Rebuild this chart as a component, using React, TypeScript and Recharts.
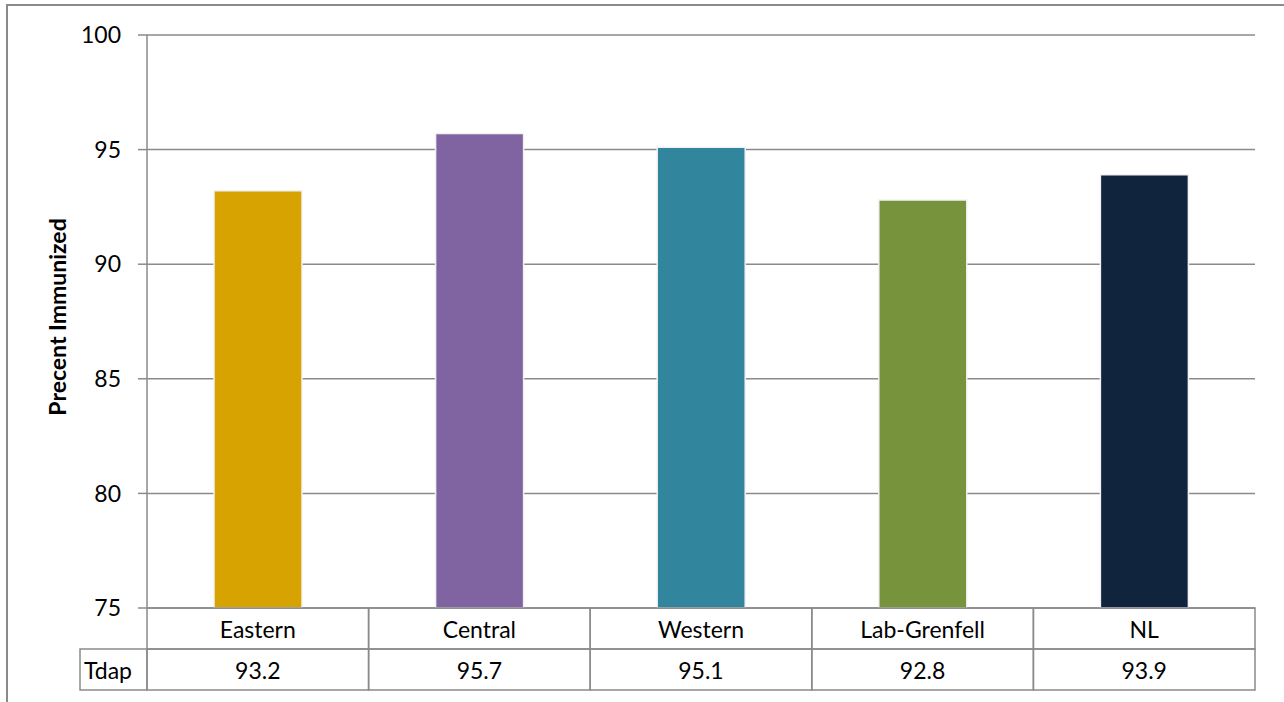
import React from "react";
import { BarChart, Bar, XAxis, YAxis, CartesianGrid, Cell } from "recharts";

const categories = ["Eastern", "Central", "Western", "Lab-Grenfell", "NL"];
const tdapValues = [93.2, 95.7, 95.1, 92.8, 93.9];
const barColors = ["#D6A300", "#8064A2", "#31859C", "#77933C", "#10243E"];
const yTicks = [75, 80, 85, 90, 95, 100];
const seriesName = "Tdap";
const yAxisTitle = "Precent Immunized";

const data = categories.map((c, i) => ({ name: c, value: tdapValues[i] }));

const W = 1284;
const H = 702;
const M_TOP = 35;
const M_RIGHT = 29;
const Y_W = 147;
const X_H = 94;
const PLOT_W = W - Y_W - M_RIGHT;
const BAND = PLOT_W / categories.length;
const PLOT_BOTTOM = H - X_H;
const ROW_H = 41;
const GRAY = "#8A8A8A";
const FONT = "Lato, 'Open Sans', sans-serif";

const TableTick = (props: any) => {
  const { x, index, payload } = props;
  const left = x - BAND / 2;
  const y0 = PLOT_BOTTOM;
  const y1 = y0 + ROW_H;
  return (
    <g>
      <rect x={left} y={y0} width={BAND} height={ROW_H} fill="none" stroke={GRAY} strokeWidth={1.5} />
      <rect x={left} y={y1} width={BAND} height={ROW_H} fill="none" stroke={GRAY} strokeWidth={1.5} />
      <text x={x} y={y0 + ROW_H / 2} textAnchor="middle" dominantBaseline="central" fontSize={23} fill="#000" fontFamily={FONT}>
        {payload.value}
      </text>
      <text x={x} y={y1 + ROW_H / 2} textAnchor="middle" dominantBaseline="central" fontSize={23} fill="#000" fontFamily={FONT}>
        {tdapValues[index]}
      </text>
      {index === 0 && (
        <g>
          <rect x={80} y={y1} width={left - 80} height={ROW_H} fill="none" stroke={GRAY} strokeWidth={1.5} />
          <text x={84} y={y1 + ROW_H / 2} textAnchor="start" dominantBaseline="central" fontSize={23} fill="#000" fontFamily={FONT}>
            {seriesName}
          </text>
        </g>
      )}
    </g>
  );
};

const YTitle = () => {
  const cx = 57;
  const cy = 317;
  return (
    <text x={cx} y={cy} transform={`rotate(-90, ${cx}, ${cy})`} textAnchor="middle" dominantBaseline="central" fontSize={23} fontWeight="bold" fill="#000" fontFamily={FONT}>
      {yAxisTitle}
    </text>
  );
};

export default function App() {
  return (
    <div style={{ position: "absolute", left: 0, top: 0, width: W, height: H, overflow: "hidden", background: "#fff" }}>
      <div style={{ position: "absolute", left: 6, top: 4, width: W + 20, height: H + 20, borderTop: `2px solid ${GRAY}`, borderLeft: `2px solid ${GRAY}` }} />
      <div style={{ position: "absolute", left: 0, top: 0 }}>
        <BarChart width={W} height={H} data={data} margin={{ top: M_TOP, right: M_RIGHT, left: 0, bottom: 0 }} barCategoryGap="30%">
          <CartesianGrid vertical={false} stroke={GRAY} strokeWidth={1.5} />
          <XAxis dataKey="name" height={X_H} axisLine={false} tickLine={false} interval={0} tick={<TableTick />} />
          <YAxis
            width={Y_W}
            domain={[75, 100]}
            ticks={yTicks}
            allowDataOverflow
            axisLine={{ stroke: GRAY, strokeWidth: 1.5 }}
            tickLine={{ stroke: GRAY, strokeWidth: 1.5 }}
            tickSize={9}
            tickMargin={17}
            tick={{ fontSize: 23, fill: "#000", fontFamily: FONT }}
            label={<YTitle />}
          />
          <Bar dataKey="value" barSize={88} stroke="#F2F2F2" strokeWidth={1.5} isAnimationActive={false}>
            {data.map((d, i) => (
              <Cell key={d.name} fill={barColors[i]} />
            ))}
          </Bar>
        </BarChart>
      </div>
    </div>
  );
}
